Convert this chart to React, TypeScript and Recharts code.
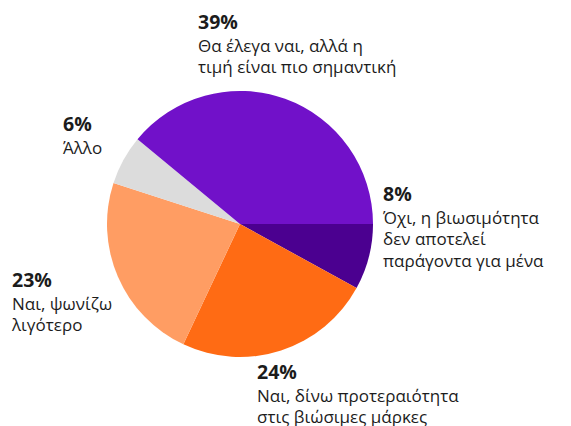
import { PieChart, Pie, Cell } from "recharts";

const shares = [8, 24, 23, 6, 39];
const percents = ["8%", "24%", "23%", "6%", "39%"];
const answers = [
  ["Όχι, η βιωσιμότητα", "δεν αποτελεί", "παράγοντα για μένα"],
  ["Ναι, δίνω προτεραιότητα", "στις βιώσιμες μάρκες"],
  ["Ναι, ψωνίζω", "λιγότερο"],
  ["Άλλο"],
  ["Θα έλεγα ναι, αλλά η", "τιμή είναι πιο σημαντική"],
];
const colors = ["#4b0090", "#ff6b14", "#ff9d63", "#dcdcdc", "#7111c9"];

// where each label block starts (x, baseline of the percentage)
const labelSpots = [
  [383, 201],
  [257, 379],
  [12, 287],
  [63, 131],
  [198, 29],
];

const data = shares.map((v, i) => ({ name: percents[i], value: v }));

const font = "'Open Sans', 'Noto Sans', sans-serif";

const renderLabel = ({ index }: { index: number }) => {
  const [x, y] = labelSpots[index];
  return (
    <g key={`lbl-${index}`}>
      <text x={x} y={y} fontFamily={font} fontSize={19.5} fontWeight={700} fill="#1c1c1c">
        {percents[index]}
      </text>
      {answers[index].map((line, j) => (
        <text key={j} x={x} y={y + 22.5 + j * 21.5} fontFamily={font} fontSize={17} fontWeight={500} fill="#1c1c1c">
          {line}
        </text>
      ))}
    </g>
  );
};

const App = () => (
  <div style={{ position: "absolute", left: 0, top: 0, background: "#fff" }}>
    <PieChart width={571} height={426} margin={{ top: 0, right: 0, bottom: 0, left: 0 }}>
      <Pie
        data={data}
        dataKey="value"
        cx={240}
        cy={224}
        outerRadius={133}
        startAngle={0}
        endAngle={-360}
        stroke="none"
        label={renderLabel}
        labelLine={false}
        isAnimationActive={false}
      >
        {data.map((d, i) => (
          <Cell key={d.name} fill={colors[i]} />
        ))}
      </Pie>
    </PieChart>
  </div>
);

export default App;
